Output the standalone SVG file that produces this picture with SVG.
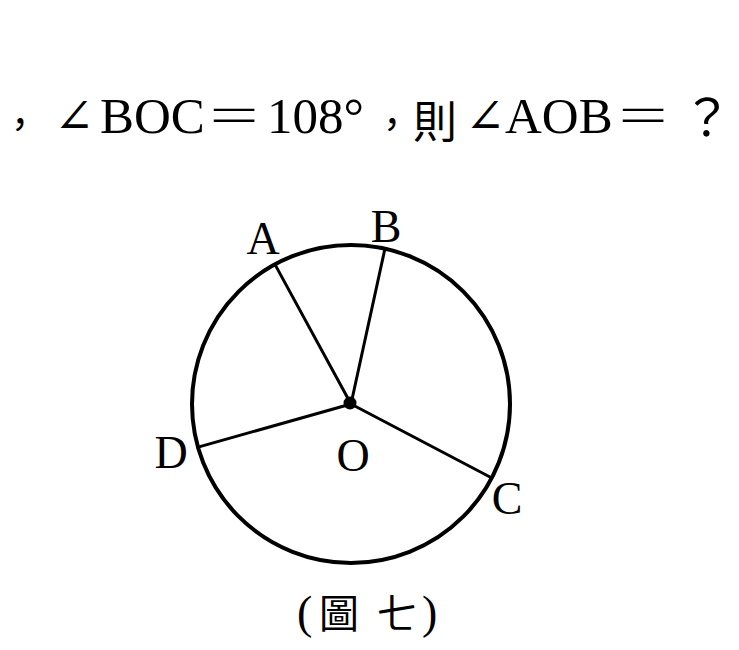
<svg xmlns="http://www.w3.org/2000/svg" width="739" height="650" viewBox="0 0 739 650">
<style>
.lat{font-family:"Liberation Serif","DejaVu Serif",serif;fill:#000}
.cjk{font-family:"Noto Sans CJK TC","Noto Sans CJK SC",sans-serif;fill:#000}
.eq{font-family:"Noto Sans CJK TC","Noto Sans CJK SC",sans-serif;font-weight:300;fill:#000}
.ln{stroke:#000;stroke-width:3;fill:none;stroke-linecap:round}
</style>
<rect width="739" height="650" fill="#fff"/>
<g id="question">
<text class="cjk" x="1" y="138" font-size="38">，</text>
<text class="lat" x="74" y="133" font-size="48" text-anchor="middle">∠</text>
<text class="lat" x="100" y="133" font-size="51">BOC</text>
<text class="eq" x="0" y="0" font-size="48" text-anchor="middle" transform="translate(234,133) scale(1.15,1)">＝</text>
<text class="lat" x="267" y="133" font-size="51">108°</text>
<text class="cjk" x="373" y="138" font-size="38">，</text>
<text class="cjk" x="435" y="138" font-size="44" text-anchor="middle">則</text>
<text class="lat" x="485" y="133" font-size="48" text-anchor="middle">∠</text>
<text class="lat" x="505" y="133" font-size="51">AOB</text>
<text class="eq" x="0" y="0" font-size="48" text-anchor="middle" transform="translate(643,133) scale(1.15,1)">＝</text>
<text class="cjk" x="707" y="136" font-size="50" text-anchor="middle">？</text>
</g>
<g id="circle">
<circle cx="351" cy="404" r="159" fill="none" stroke="#000" stroke-width="4"/>
</g>
<g id="connectors">
<line class="ln" x1="351" y1="404" x2="275.9" y2="266.1"/>
<line class="ln" x1="351" y1="404" x2="384.5" y2="250.7"/>
<line class="ln" x1="351" y1="404" x2="490" y2="477"/>
<line class="ln" x1="351" y1="404" x2="199.9" y2="446.6"/>
</g>
<g id="O"><circle cx="350" cy="403" r="6.5" fill="#000"/><text class="lat" x="353" y="471" font-size="46" text-anchor="middle">O</text></g>
<g id="A"><text class="lat" x="263" y="254" font-size="46" text-anchor="middle">A</text></g>
<g id="B"><text class="lat" x="386" y="242" font-size="46" text-anchor="middle">B</text></g>
<g id="C"><text class="lat" x="507" y="514" font-size="46" text-anchor="middle">C</text></g>
<g id="D"><text class="lat" x="171" y="468" font-size="46" text-anchor="middle">D</text></g>
<g id="caption">
<text y="628" font-size="40"><tspan class="lat" x="297" font-size="46">(</tspan><tspan class="cjk" x="319">圖</tspan><tspan class="cjk" x="376"> </tspan><tspan class="cjk" x="377">七</tspan><tspan class="lat" x="422" font-size="46">)</tspan></text>
</g>
</svg>
